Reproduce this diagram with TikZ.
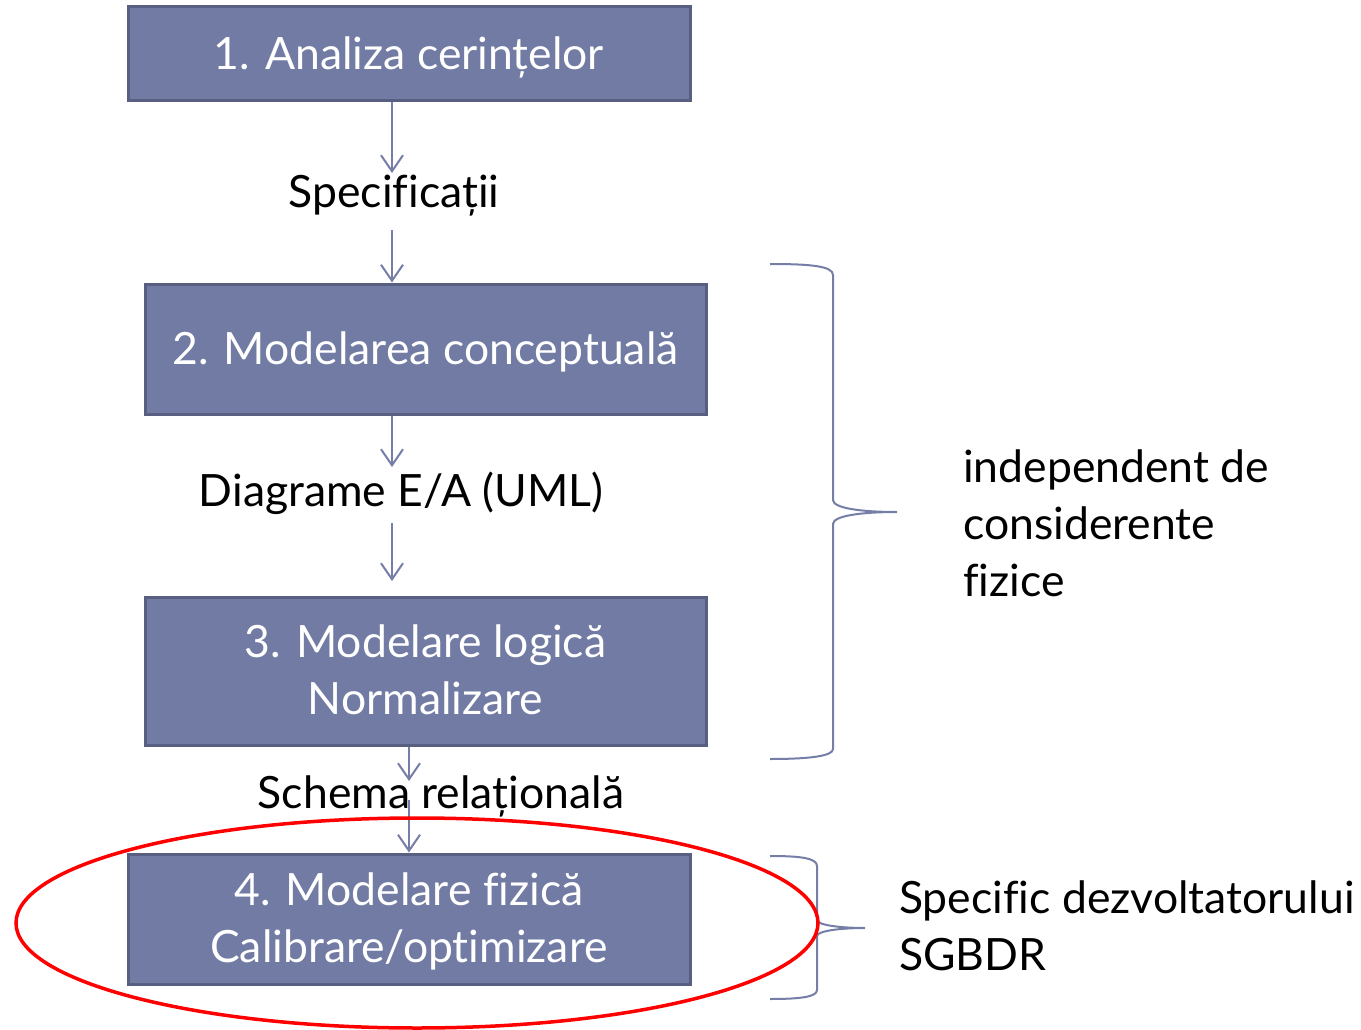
\documentclass[tikz,border=0pt]{standalone}
\usepackage{fontspec}
\setmainfont{Lato}[Ligatures={NoCommon}]
\usetikzlibrary{arrows.meta,shapes.geometric}
\definecolor{boxfill}{RGB}{113,123,163}
\definecolor{boxline}{RGB}{88,95,128}
\definecolor{conn}{RGB}{116,126,166}
\definecolor{ellred}{RGB}{255,0,0}
\newcommand{\lowtxt}[1]{\raisebox{0pt}[\dimexpr\height+8pt\relax][\depth]{\begin{tabular}{@{}c@{}}#1\end{tabular}}}
\begin{document}
\begin{tikzpicture}[x=1pt,y=-1pt,
  box/.style={draw=boxline, line width=3pt, fill=boxfill, text=white, align=center,
    font=\fontsize{44.5}{57}\selectfont, inner sep=0pt},
  lbl/.style={font=\fontsize{44.5}{57}\selectfont, inner sep=0pt, align=left},
  arr/.style={draw=conn, line width=2pt, -{Straight Barb[length=16pt,width=22pt,line width=2pt]}},
  brace/.style={draw=conn, line width=2pt},
]
\useasboundingbox (0,0) rectangle (1361,1030);

\node[box, minimum width=562pt, minimum height=94pt] (b1) at (409,54) {\lowtxt{1. Analiza cerințelor}};
\node[box, minimum width=561pt, minimum height=130pt] (b2) at (425.5,349) {\lowtxt{2. Modelarea conceptuală}};
\node[box, minimum width=561pt, minimum height=148pt] (b3) at (425.5,671) {\lowtxt{3. Modelare logică\\Normalizare}};
\node[box, minimum width=562pt, minimum height=130pt] (b4) at (409,919) {\lowtxt{4. Modelare fizică\\Calibrare/optimizare}};

\node[lbl] (spec) at (394,196) {Specificații};
\node[lbl] (diag) at (401,493) {Diagrame E/A (UML)};
\node[lbl] (sch) at (441,796) {Schema relațională};

\coordinate (a1e) at (392,173);
\coordinate (a2s) at (392,230);
\coordinate (a3e) at (392,467);
\coordinate (a4s) at (392,523);
\coordinate (a4e) at (392,581);
\coordinate (a5e) at (409,781);
\coordinate (a6s) at (409,800);

\draw[arr] (b1.south -| a1e) -- (a1e);
\draw[arr] (a2s) -- (a2s |- b2.north);
\draw[arr] (b2.south -| a3e) -- (a3e);
\draw[arr] (a4s) -- (a4e);
\draw[arr] (b3.south -| a5e) -- (a5e);
\draw[arr] (a6s) -- (a6s |- b4.north);

% braces
\draw[brace] (770,264) .. controls (810,264) and (833,266) .. (833,275) -- (833,500)
  .. controls (833,508) and (860,512) .. (897,512)
  .. controls (860,512) and (833,516) .. (833,524) -- (833,749)
  .. controls (833,756) and (810,759) .. (770,759);
\draw[brace] (770,856) .. controls (800,856) and (817,858) .. (817,866) -- (817,920)
  .. controls (817,925) and (840,928) .. (865,928)
  .. controls (840,928) and (817,931) .. (817,936) -- (817,990)
  .. controls (817,997) and (800,999) .. (770,999);

\node[lbl, anchor=west] (ind) at (963,523) {independent de\\considerente\\fizice};
\node[lbl, anchor=west] (sgb) at (899,926) {Specific dezvoltatorului\\SGBDR};

\node[draw=ellred, line width=3.5pt, ellipse, minimum width=802pt, minimum height=210pt, inner sep=0pt] (ell) at (417,923) {};
\end{tikzpicture}
\end{document}
